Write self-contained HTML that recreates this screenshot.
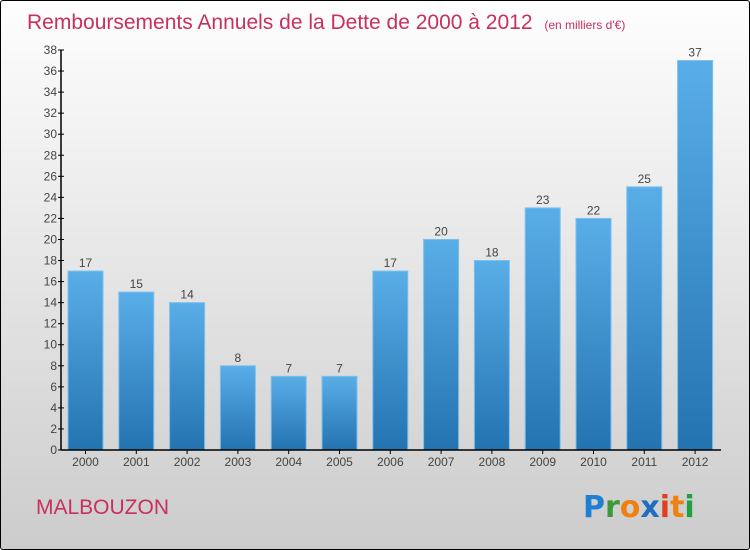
<!DOCTYPE html>
<html><head><meta charset="utf-8"><style>
body{margin:0;width:750px;height:550px;overflow:hidden;font-family:"Liberation Sans",sans-serif}
#frame{position:absolute;left:0;top:0;width:748px;height:548px;border:1px solid #000;border-radius:3px;background:linear-gradient(#fefefe,#cccccc)}
</style></head><body>
<div id="frame"></div>
<svg id="chart" width="750" height="550" style="position:absolute;left:0;top:0">
<defs><linearGradient id="bg" x1="0" y1="0" x2="0" y2="1"><stop offset="0" stop-color="#5aaee8"/><stop offset="1" stop-color="#2373b0"/></linearGradient></defs>
<text x="27" y="29" font-size="21" fill="#c8305e">Remboursements Annuels de la Dette de 2000 à 2012 <tspan font-size="12" dx="6">(en milliers d'€)</tspan></text>
<text x="36" y="514" font-size="21" fill="#c8305e">MALBOUZON</text>
<g font-size="30" font-weight="bold" font-family="'DejaVu Sans',sans-serif">
<text x="583" y="517"><tspan fill="#1f7fd0">P</tspan><tspan fill="#3a9a3a">r</tspan><tspan fill="#f08010">o</tspan><tspan fill="#1f6fc0">x</tspan><tspan fill="#e04020">i</tspan><tspan fill="#f08010">t</tspan><tspan fill="#20a040">i</tspan></text></g>
<g id="plot"></g>
</svg>
<script>
const years=["2000","2001","2002","2003","2004","2005","2006","2007","2008","2009","2010","2011","2012"];
const values=[17,15,14,8,7,7,17,20,18,23,22,25,37];
const yTicks=[0,2,4,6,8,10,12,14,16,18,20,22,24,26,28,30,32,34,36,38];
const NS="http://www.w3.org/2000/svg";
const g=document.getElementById('plot');
const y0=450,yTop=50,yMax=38,xL=61,step=50.8,x0=85.5,bw=35;
const ys=v=>y0-(v/yMax)*(y0-yTop);
const xs=i=>x0+i*step;
function mk(t,a){const e=document.createElementNS(NS,t);for(const k in a)e.setAttribute(k,a[k]);g.appendChild(e);return e;}
values.forEach((v,i)=>{
 const r=mk('rect',{x:xs(i)-bw/2,y:ys(v),width:bw,height:y0-ys(v),fill:'url(#bg)',stroke:'#7cc0ee','stroke-width':1});
 
 
 const t=mk('text',{x:xs(i),y:ys(v)-4,'text-anchor':'middle','font-size':12,fill:'#444'});t.textContent=v;
 
 
 const xl=mk('text',{x:xs(i),y:466,'text-anchor':'middle','font-size':12,fill:'#444'});xl.textContent=years[i];
 
 
 mk('line',{x1:xs(i),x2:xs(i),y1:y0,y2:y0+4,stroke:'#000'});
});
yTicks.forEach(v=>{
 mk('line',{x1:xL-3,x2:xL+3,y1:ys(v),y2:ys(v),stroke:'#000'});
 const t=mk('text',{x:xL-4,y:ys(v)+4,'text-anchor':'end','font-size':12,fill:'#444'});t.textContent=v;
 
 
});
const ya=mk('line',{x1:xL,x2:xL,y1:yTop,y2:y0,stroke:'#000','stroke-width':1.5});


const xa=mk('line',{x1:xL,x2:721,y1:y0,y2:y0,stroke:'#000','stroke-width':1.5});


</script>
</body></html>
